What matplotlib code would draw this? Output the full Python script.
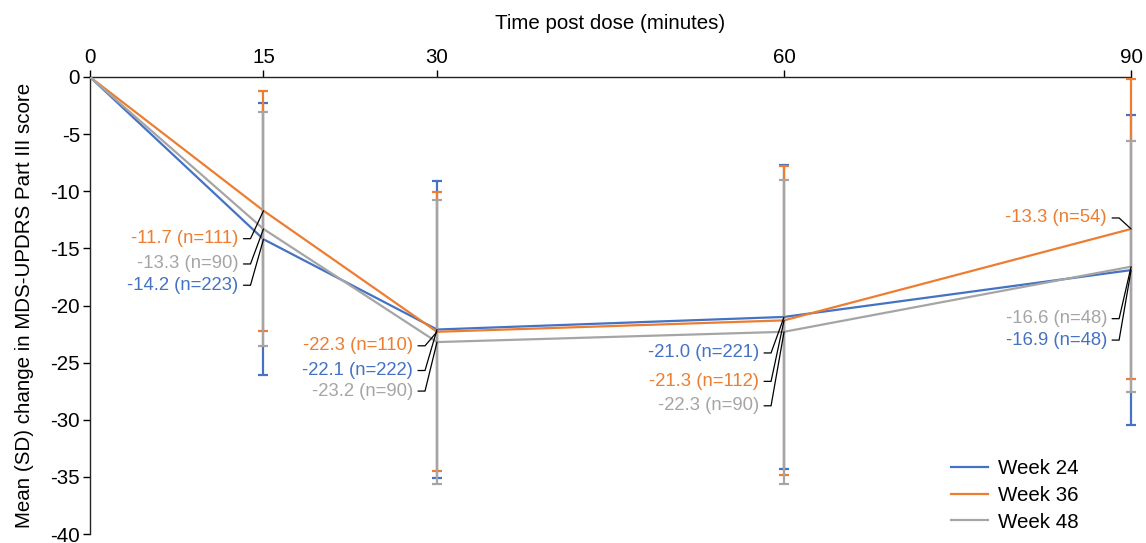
import math
import matplotlib.pyplot as plt

plt.rcParams['font.family'] = ['Liberation Sans', 'DejaVu Sans']
plt.rcParams['axes.unicode_minus'] = False

# data
minutes = [0, 15, 30, 60, 90]
week24_mean = [0, -14.2, -22.1, -21.0, -16.9]
week36_mean = [0, -11.7, -22.3, -21.3, -13.3]
week48_mean = [0, -13.3, -23.2, -22.3, -16.6]
week24_sd = [0, 11.9, 13.0, 13.3, 13.6]
week36_sd = [0, 10.5, 12.2, 13.5, 13.1]
week48_sd = [0, 10.2, 12.4, 13.3, 11.0]
week24_n = [None, 223, 222, 221, 48]
week36_n = [None, 111, 110, 112, 54]
week48_n = [None, 90, 90, 90, 48]

series = [
    ('Week 24', week24_mean, week24_sd, week24_n, '#4472C4'),
    ('Week 36', week36_mean, week36_sd, week36_n, '#ED7D31'),
    ('Week 48', week48_mean, week48_sd, week48_n, '#A5A5A5'),
]

# label layout: pixel offsets (dx right, dy down) of the text right edge from its point
label_offsets = {
    'Week 24': [None, (-25, 46), (-24, 41), (-25, 36), (-24, 70)],
    'Week 36': [None, (-25, 28), (-24, 14), (-25, 61), (-24, -11)],
    'Week 48': [None, (-25, 35), (-24, 49), (-25, 74), (-24, 52)],
}

PT = 0.72  # points per pixel at dpi 100

fig = plt.figure(figsize=(11.46, 5.43), dpi=100)
ax = fig.add_axes([0.0785, 0.0165, 0.9085, 0.8417])

for i, (name, mean, sd, n, color) in enumerate(series):
    ax.plot(minutes, mean, color=color, lw=1.6, label=name, zorder=2 + i)
    ax.errorbar(minutes[1:], mean[1:], yerr=sd[1:], fmt='none', ecolor=color,
                elinewidth=1.6, capsize=3.8, capthick=1.6, zorder=2 + i,
                clip_on=False)

for name, mean, sd, n, color in series:
    for j in range(1, len(minutes)):
        dx, dy = label_offsets[name][j]
        ax.annotate(f'{mean[j]:.1f} (n={n[j]})', xy=(minutes[j], mean[j]),
                    xytext=(dx * PT, -dy * PT), textcoords='offset points',
                    ha='right', va='center', color=color, fontsize=13.3)
        # leader: short horizontal stub, then a diagonal to the point
        cx = dx + 12
        ang = math.degrees(math.atan2(dy, -cx))
        ax.annotate('', xy=(minutes[j], mean[j]),
                    xytext=((dx + 5) * PT, -dy * PT), textcoords='offset points',
                    arrowprops=dict(arrowstyle='-', color='black', lw=0.9,
                                    shrinkA=0, shrinkB=0,
                                    connectionstyle=f'angle,angleA=0,angleB={ang:.2f},rad=0'),
                    zorder=10)

ax.set_xlim(0, 90)
ax.set_ylim(-40, 0)
ax.set_xticks(minutes)
ax.set_yticks(range(-40, 1, 5))
ax.xaxis.tick_top()
ax.xaxis.set_label_position('top')
ax.set_xlabel('Time post dose (minutes)', fontsize=14.8, labelpad=14)
ax.set_ylabel('Mean (SD) change in MDS-UPDRS Part III score', fontsize=14.8, labelpad=12)
ax.tick_params(labelsize=14.8, width=1, length=5, pad=2)
ax.spines['bottom'].set_visible(False)
ax.spines['right'].set_visible(False)
for s in ['top', 'left']:
    ax.spines[s].set_linewidth(1)
    ax.spines[s].set_color('#222222')

ax.legend(loc='lower right', frameon=False, fontsize=14.8, handlelength=1.8,
          handletextpad=0.45, bbox_to_anchor=(0.967, -0.035), labelspacing=0.38)

fig.savefig('out.png', dpi=100)
